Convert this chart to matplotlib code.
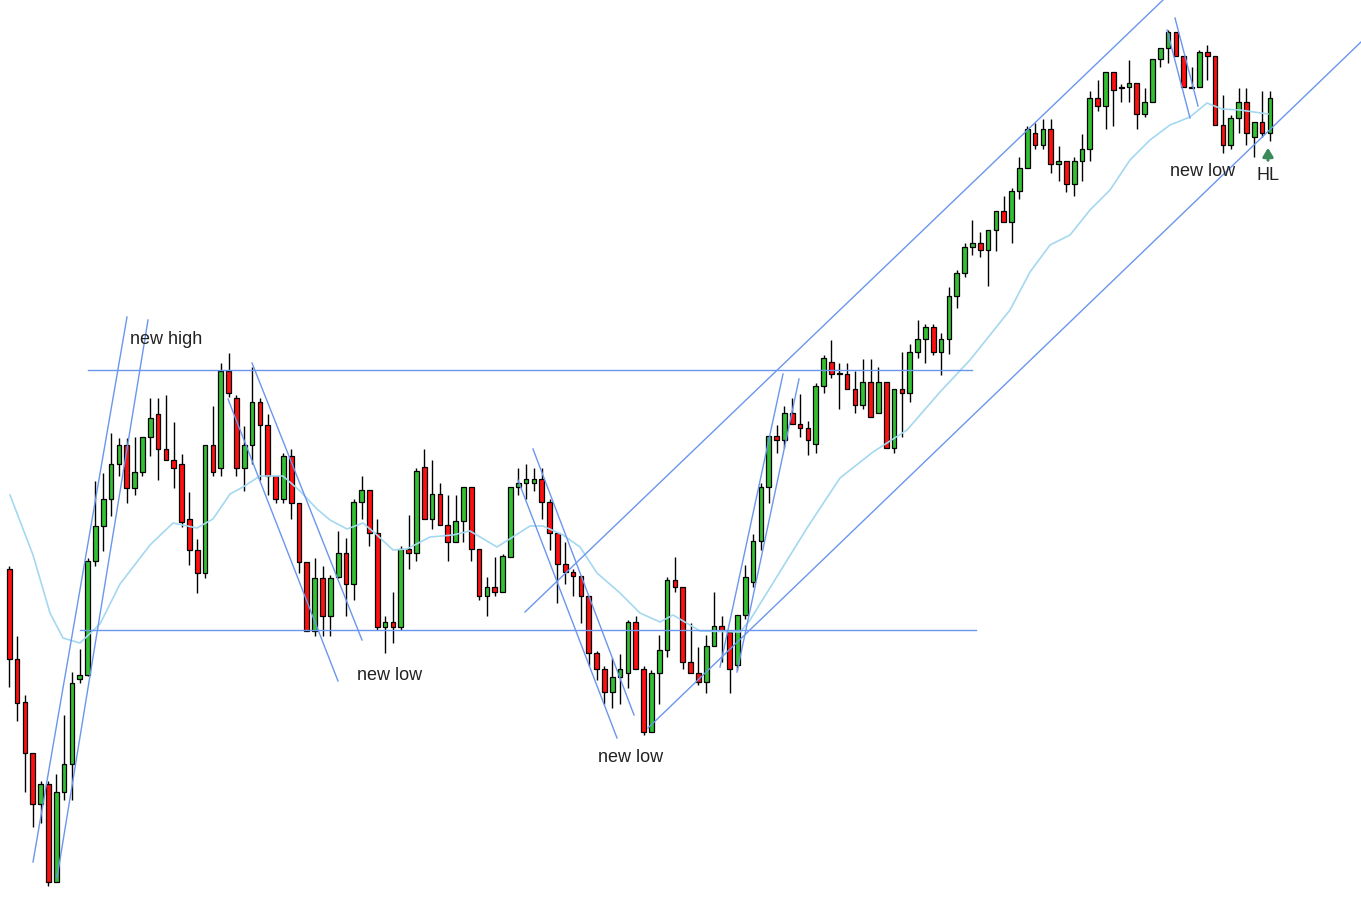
import matplotlib
matplotlib.use("Agg")
import matplotlib.pyplot as plt
import numpy as np

# Price values are read in screen units (larger = lower price); the y axis is inverted.
opens = [569,659,702,753,804,784,882,792,764,679,675,561,526,499,464,445,488,472,437,414,
         449,460,464,519,550,573,445,468,371,398,468,445,402,425,476,499,456,503,562,631,
         578,616,577,553,584,502,490,533,627,622,627,549,553,467,519,494,525,542,521,487,
         549,596,587,592,557,487,483,483,479,502,533,564,572,576,596,653,669,692,677,673,
         622,669,732,673,650,580,587,662,673,682,646,626,632,665,615,582,541,487,436,440,
         413,424,428,444,386,362,373,374,389,405,382,413,382,448,389,393,352,339,327,352,
         339,296,273,247,243,250,230,211,222,191,168,133,145,129,164,161,184,161,149,98,
         106,72,87,87,83,114,102,59,48,32,56,87,87,52,56,125,145,118,102,137,
         122,133]
closes = [659,703,753,804,784,882,792,764,683,675,561,526,499,464,445,488,472,437,418,449,
          460,468,522,550,573,445,472,371,393,468,445,402,425,476,499,456,503,562,631,578,
          616,578,553,584,502,490,533,627,622,627,549,553,471,519,494,525,542,521,487,549,
          596,587,592,556,487,483,479,479,502,533,564,572,576,596,653,669,692,677,669,622,
          669,732,673,650,580,587,662,673,682,646,626,630,669,615,577,541,487,436,440,413,
          424,428,440,386,358,374,374,389,405,382,417,382,448,389,393,352,339,327,352,339,
          296,273,247,243,250,230,211,222,191,168,129,145,129,164,161,184,161,149,98,106,
          72,90,88,83,114,102,59,48,32,56,87,88,52,56,125,145,118,102,133,122,
          133,98]
highs = [566,636,695,753,781,781,774,715,672,649,558,481,473,433,438,438,437,437,398,398,
         395,422,454,492,539,445,406,363,353,395,426,367,398,414,476,453,449,503,562,558,
         566,575,531,538,499,476,490,519,616,592,546,515,468,449,460,483,495,495,487,487,
         549,577,557,554,487,468,464,468,468,499,533,542,569,576,596,651,666,658,654,620,
         616,666,670,635,577,557,587,623,647,635,592,616,632,615,565,534,483,436,425,406,
         398,394,421,383,355,340,363,363,371,359,359,367,382,389,352,344,320,324,324,333,
         287,270,243,220,232,230,211,196,188,157,126,123,119,119,146,161,157,134,91,80,
         72,72,84,60,83,88,59,48,30,32,56,67,50,45,56,95,115,88,88,122,
         91,91]
lows = [687,721,792,827,823,886,882,800,800,683,676,566,551,516,476,503,495,476,456,480,
        460,488,527,565,593,578,476,476,397,476,491,464,480,495,503,503,519,573,631,636,
        636,636,578,616,600,519,546,630,653,643,630,569,561,519,529,525,561,542,542,561,
        600,616,596,592,557,495,499,491,519,550,603,584,596,623,666,680,704,708,704,688,
        669,735,732,704,657,592,669,673,685,693,646,662,693,670,619,587,550,503,453,448,
        424,437,455,453,393,378,409,389,413,409,417,413,448,453,437,402,358,363,355,375,
        354,308,277,255,257,286,251,222,243,199,168,149,149,173,181,192,196,181,161,111,
        129,126,102,102,129,117,102,67,63,56,87,88,87,80,125,153,149,133,145,157,
        137,141]

# Moving average readings: (screen x, level)
ma_px = [10,33,50,63,80,100,120,150,173,197,213,230,243,260,283,300,317,330,347,363,377,393,
         407,430,453,470,497,530,543,563,580,597,620,640,660,673,700,740,750,773,807,840,873,
         907,940,970,990,1010,1030,1050,1070,1090,1110,1130,1150,1170,1190,1207,1222,1240,1268]
ma_val = [495,555,613,638,643,624,584,545,523,528,519,494,487,476,476,491,509,520,529,523,535,550,
          549,537,535,531,547,526,526,535,547,573,593,613,622,615,631,632,620,583,528,478,452,
          430,392,360,335,310,272,245,235,210,190,160,140,125,117,103,109,110,114]

# Trend / level lines in screen coords: (x1, y1, x2, y2)
lines = [(33,862,127,317),(57,878,148,320),(88,370,972,370),(80,630,976,630),
         (252,363,362,640),(228,399,338,681),(533,449,634,715),(518,480,617,738),
         (525,612,1163,0),(648,728,1361,42),(720,667,783,374),(737,672,799,379),
         (1167,30,1190,118),(1175,18,1198,106)]

labels = [("new high",130,339),("new low",357,675),("new low",598,757),
          ("new low",1170,171),("HL",1256,176)]

X0, STEP = 9.3, 7.83
def px2i(x):
    return (np.asarray(x, dtype=float) - X0) / STEP

fig = plt.figure(figsize=(13.61, 9.08), dpi=100)
ax = fig.add_axes([0, 0, 1, 1])
ax.set_xlim(px2i(0), px2i(1361))
ax.set_ylim(908, 0)
ax.axis("off")

n = len(opens)
idx = np.arange(n)
o = np.array(opens, float); c = np.array(closes, float)
h = np.array(highs, float); l = np.array(lows, float)
up = c < o
cols = np.where(up, "#33c033", "#ff1010")
ax.vlines(idx, h, l, color="black", lw=1.0, zorder=2)
bottom = np.minimum(o, c)
height = np.maximum(np.abs(o - c), 0.8)
ax.bar(idx, height, bottom=bottom, width=0.6, color=cols, edgecolor="black", lw=0.9, zorder=3)

ax.plot(px2i(ma_px), ma_val, color="#a4d8f0", lw=1.2, zorder=4)

for x1, y1, x2, y2 in lines:
    ax.plot(px2i([x1, x2]), [y1, y2], color="#6a96ee", lw=1.0, zorder=5)

for t, x, y in labels:
    ax.text(px2i(x), y, t, fontsize=13, color="#222222", ha="left", va="center",
            family=["Liberation Sans", "DejaVu Sans"], zorder=6)

ax.annotate("", xy=(px2i(1268), 145), xytext=(px2i(1268), 163),
            arrowprops=dict(arrowstyle="-|>,head_width=0.3,head_length=0.5",
                            color="#3a8a5a", lw=2.2), zorder=6)

fig.savefig("out.png", dpi=100)
